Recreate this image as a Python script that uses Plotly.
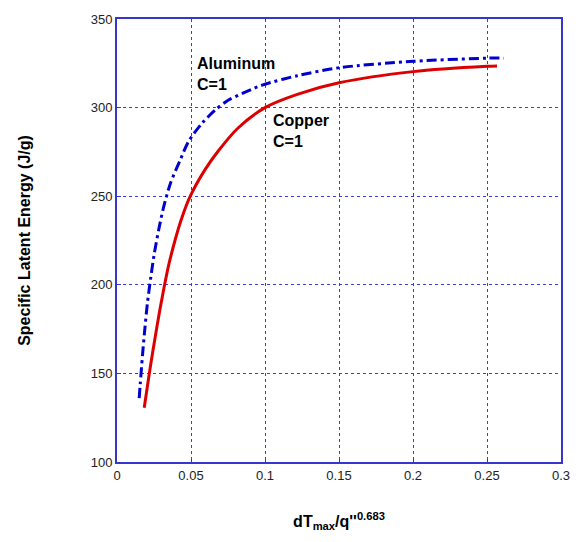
import plotly.graph_objects as go

copper_x = [0.0184, 0.0206, 0.0224, 0.0257, 0.029, 0.0317, 0.0346, 0.0395, 0.0439, 0.0495,
            0.0595, 0.0684, 0.0818, 0.1, 0.1218, 0.15, 0.2, 0.25, 0.2568]
copper_y = [130.6, 143.0, 153.0, 170.0, 186.0, 198.0, 210.0, 226.0, 238.0, 250.0,
            265.0, 275.5, 288.5, 300.0, 307.5, 314.0, 320.3, 323.3, 323.5]

alum_x = [0.015, 0.0157, 0.0172, 0.0188, 0.0206, 0.0228, 0.025, 0.0284, 0.0317, 0.0362,
          0.0428, 0.0484, 0.0573, 0.0662, 0.0751, 0.0929, 0.1, 0.1218, 0.15, 0.2, 0.25, 0.2615]
alum_y = [136.0, 144.0, 160.0, 175.0, 190.0, 204.0, 216.6, 232.0, 244.5, 257.5,
          270.6, 281.0, 291.0, 298.5, 304.1, 311.0, 313.2, 318.0, 322.5, 326.1, 327.9, 327.9]

x_ticks = [0, 0.05, 0.1, 0.15, 0.2, 0.25, 0.3]
x_labels = ["0", "0.05", "0.1", "0.15", "0.2", "0.25", "0.3"]
y_ticks = [100, 150, 200, 250, 300, 350]

FONT = "Liberation Sans, Arial"

fig = go.Figure()
fig.add_trace(go.Scatter(x=alum_x, y=alum_y, mode="lines", name="Aluminum",
                         line=dict(color="#0000cc", width=3, dash="10px,4px,3px,4px",
                                   shape="spline", smoothing=0.8)))
fig.add_trace(go.Scatter(x=copper_x, y=copper_y, mode="lines", name="Copper",
                         line=dict(color="#dd0000", width=3, shape="spline", smoothing=0.8)))

fig.add_annotation(x=0.0525, y=318.8, text="<b>Aluminum<br>C=1</b>", showarrow=False,
                   xanchor="left", yanchor="middle", align="left",
                   font=dict(family=FONT, size=16, color="black"))
fig.add_annotation(x=0.104, y=286.8, text="<b>Copper<br>C=1</b>", showarrow=False,
                   xanchor="left", yanchor="middle", align="left",
                   font=dict(family=FONT, size=16, color="black"))

axis_common = dict(showgrid=True, gridcolor="#3a3ae8", griddash="dot", gridwidth=1,
                   showline=True, linecolor="#3535d0", linewidth=2, mirror=True,
                   ticks="inside", ticklen=4, tickcolor="#3535d0", zeroline=False,
                   tickfont=dict(family=FONT, size=13, color="#222"))

fig.update_xaxes(range=[0, 0.3], tickvals=x_ticks, ticktext=x_labels,
                 title=dict(text="<b>dT<sub>max</sub>/q''<sup>0.683</sup></b>",
                            font=dict(family=FONT, size=16, color="black"),
                            standoff=34),
                 **axis_common)
fig.update_yaxes(range=[100, 350], tickvals=y_ticks,
                 title=dict(text="<b>Specific Latent Energy (J/g)</b>",
                            font=dict(family=FONT, size=16, color="black"),
                            standoff=56),
                 **axis_common)

fig.update_layout(width=582, height=542, showlegend=False,
                  paper_bgcolor="white", plot_bgcolor="white",
                  margin=dict(l=117, r=15, t=16, b=80))

fig.write_html("out.html")
